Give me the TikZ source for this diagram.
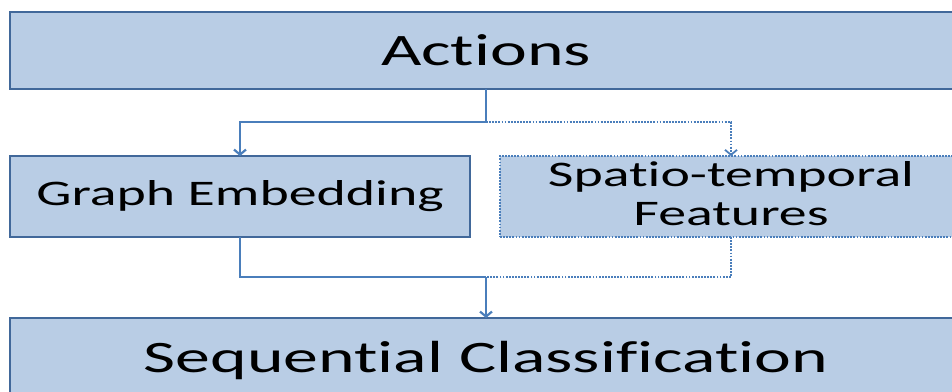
\documentclass[tikz,border=0pt]{standalone}
\usepackage{fontspec}
\setmainfont{Carlito}
\newfontfamily\widefont[FakeStretch=1.55,Ligatures=NoCommon,RawFeature={-liga;-dlig;-clig}]{Carlito}
\usetikzlibrary{arrows.meta}
\definecolor{boxfill}{HTML}{B9CDE5}
\definecolor{boxline}{HTML}{41689A}
\definecolor{conncol}{HTML}{4A7EBB}
\tikzset{
  box/.style={rectangle, draw=boxline, fill=boxfill, line width=2.2pt,
    inner sep=0pt, outer sep=0pt, text=black, anchor=north west, align=center},
  dotbox/.style={box, draw=conncol, line width=1.8pt, dash pattern=on 1.8pt off 1.3pt},
  bigtext/.style={font=\fontsize{45}{54}\selectfont\widefont},
  midtext/.style={font=\fontsize{36}{38.3}\selectfont\widefont},
  conn/.style={draw=conncol, line width=2.4pt},
  dotconn/.style={draw=conncol, line width=1.8pt, dash pattern=on 1.8pt off 1.3pt},
  tip/.style={-{Straight Barb[length=5pt,width=12pt,line width=2.2pt]}}
}
\begin{document}
\begin{tikzpicture}[x=1pt,y=-1pt]
\useasboundingbox (0,0) rectangle (952,391);
\clip (0,0) rectangle (952,391);
\node[box, bigtext, minimum width=952pt, minimum height=77pt] (actions) at (10,12) {Actions};
\node[box, midtext, minimum width=460pt, minimum height=81pt] (graph) at (10,156) {Graph Embedding};
\node[dotbox, midtext, text depth=6pt, minimum width=462pt, minimum height=81pt] (spatio) at (500,156) {Spatio-temporal\\Features};
\node[box, bigtext, text depth=0pt, minimum width=952pt, minimum height=77pt] (seq) at (10,318) {Sequential Classification};
\coordinate (j1) at (486,122);
\coordinate (j2) at (486,277);
\draw[dotconn, -{Straight Barb[length=5pt,width=12pt,line width=1.8pt]}] (j1) -| (spatio.north);
\draw[dotconn] (spatio.south) |- (j2);
\draw[conn] (actions.south) -- (j1);
\draw[conn, tip] (j1) -| (graph.north);
\draw[conn] (graph.south) |- (j2);
\draw[conn, tip] (j2) -- (seq.north);
\end{tikzpicture}
\end{document}
